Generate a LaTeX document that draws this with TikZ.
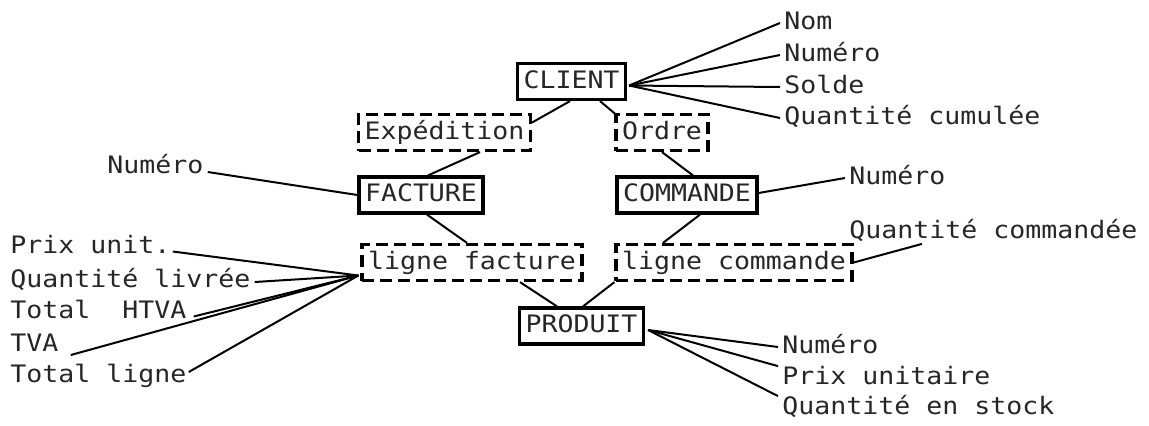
\documentclass[tikz,border=0pt]{standalone}
\usepackage{fontspec}
\setmainfont{DejaVu Sans Mono}[FakeStretch=1.107]
\usetikzlibrary{calc}
\tikzset{
  entity/.style={draw, line width=1.6pt, inner xsep=3pt, inner ysep=0pt,
    minimum height=18pt, text height=9pt, text depth=2.5pt},
  relation/.style={entity, dash pattern=on 6pt off 3pt},
  attr/.style={inner xsep=2pt, inner ysep=0pt, text height=9pt, text depth=2.5pt, anchor=west},
  link/.style={line width=1pt},
}
\begin{document}
\begin{tikzpicture}[x=0.5pt, y=-0.5pt, font=\fontsize{12pt}{14pt}\selectfont, text=black!85]
\useasboundingbox (0,0) rectangle (1149,425);

% entities and relations
\node[entity]   (client)   at (571.5,81.5) {CLIENT};
\node[relation] (exped)    at (444.5,132.5) {Expédition};
\node[relation] (ordre)    at (662,132.5)  {Ordre};
\node[entity]   (facture)  at (421,195)    {FACTURE};
\node[entity]   (commande) at (687,195)    {COMMANDE};
\node[relation] (lfact)    at (472,262.5)  {ligne facture};
\node[relation] (lcomm)    at (734,262.5)  {ligne commande};
\node[entity]   (produit)  at (581.5,326)  {PRODUIT};

% links between them
\draw[link] ($(client.south)+(-1.5,0)$) -- ($(exped.east)+(0,-10)$);
\draw[link] ($(client.south)+(28.5,0)$) -- ($(ordre.north west)+(2,2)$);
\draw[link] ($(exped.south)+(35.5,0)$) -- ($(facture.north)+(7,0)$);
\draw[link] (ordre.south) -- ($(commande.north)+(6,0)$);
\draw[link] ($(facture.south)+(6,0)$) -- ($(lfact.north)+(-5,0)$);
\draw[link] ($(commande.south)+(13,0)$) -- ($(lcomm.north)+(-71,0)$);
\draw[link] ($(lfact.south)+(48,0)$) -- ($(produit.north)+(-24.5,0)$);
\draw[link] (lcomm.south west) -- ($(produit.north)+(1.5,0)$);

% CLIENT attributes
\node[attr] (cnom)  at (780,23)  {Nom};
\node[attr] (cnum)  at (780,55)  {Numéro};
\node[attr] (csol)  at (780,87)  {Solde};
\node[attr] (ccum)  at (780,118) {Quantité cumulée};
\coordinate (cc) at ($(client.east)+(2,4)$);
\foreach \a in {cnom,cnum,csol,ccum} \draw[link] (cc) -- (\a.west);

% FACTURE attribute
\node[attr] (fnum) at (103,167) {Numéro};
\draw[link] ($(fnum.east)+(0,5)$) -- (facture.west);

% COMMANDE attribute
\node[attr] (mnum) at (845,178) {Numéro};
\draw[link] ($(commande.east)+(0,-2)$) -- (mnum.west);

% ligne commande attribute
\node[attr] (qcom) at (845,232) {Quantité commandée};
\draw[link] (lcomm.east) -- ($(qcom.south west)+(77,0)$);

% ligne facture attributes
\node[attr] (pxu)   at (6,246.5) {Prix unit.};
\node[attr] (qliv)  at (6,281)   {Quantité livrée};
\node[attr] (thtva) at (6,311.5) {Total\ \ HTVA};
\node[attr] (tva)   at (6,345)   {TVA};
\node[attr] (tlig)  at (6,376)   {Total ligne};
\coordinate (lc) at ($(lfact.west)+(-2,13)$);
\draw[link] ($(pxu.east)+(-2,5)$) -- (lc);
\draw[link] ($(qliv.east)+(0,1)$) -- (lc);
\draw[link] ($(thtva.east)+(3,5)$) -- (lc);
\draw[link] ($(tva.east)+(8,10)$) -- (lc);
\draw[link] ($(tlig.east)+(-2,-4)$) -- (lc);

% PRODUIT attributes
\node[attr] (pnum)  at (778,347) {Numéro};
\node[attr] (pprix) at (778,378) {Prix unitaire};
\node[attr] (pqs)   at (778,408) {Quantité en stock};
\coordinate (pc) at ($(produit.east)+(3,4)$);
\draw[link] (pc) -- (pnum.west);
\draw[link] (pc) -- (pprix.north west);
\draw[link] (pc) -- (pqs.north west);
\end{tikzpicture}
\end{document}
